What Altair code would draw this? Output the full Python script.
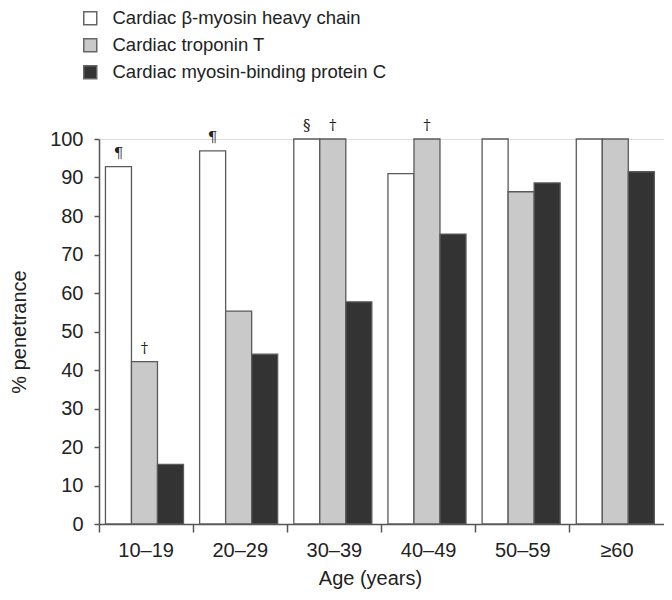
import altair as alt
import pandas as pd

ages = ["10–19", "20–29", "30–39", "40–49", "50–59", "≥60"]
series = ["Cardiac β-myosin heavy chain", "Cardiac troponin T", "Cardiac myosin-binding protein C"]
myh7 = [92.8, 96.9, 100, 91.0, 100, 100]
tnnt2 = [42.2, 55.3, 100, 100, 86.3, 100]
mybpc3 = [15.5, 44.1, 57.7, 75.3, 88.6, 91.5]

annot_ages = ["10–19", "20–29", "30–39", "30–39", "40–49", "10–19"]
annot_series = [0, 0, 0, 1, 1, 1]
annot_marks = ["¶", "¶", "§", "†", "†", "†"]

y_ticks = [0, 10, 20, 30, 40, 50, 60, 70, 80, 90, 100]

fills = ["#ffffff", "#c9c9c9", "#333333"]

vals = [myh7, tnnt2, mybpc3]
rows = []
for s, v in zip(series, vals):
    for a, y in zip(ages, v):
        rows.append({"age": a, "series": s, "value": y})
df = pd.DataFrame(rows)

arows = []
for a, si, m in zip(annot_ages, annot_series, annot_marks):
    arows.append({"age": a, "series": series[si], "value": vals[si][ages.index(a)], "mark": m})
adf = pd.DataFrame(arows)

x_enc = alt.X("age:N", sort=ages, title="Age (years)",
              scale=alt.Scale(paddingInner=0, paddingOuter=0),
              axis=alt.Axis(bandPosition=0, labelOffset=0, labelAngle=0, tickSize=8,
                            labelPadding=8, titlePadding=8, titleX=271,
                            labelFontSize=20, titleFontSize=20, titleFontWeight="normal",
                            domainColor="#555", tickColor="#555", domainWidth=1.5, tickWidth=1.5,
                            labelColor="#222", titleColor="#222", labelFont="Liberation Sans",
                            titleFont="Liberation Sans"))
xo_enc = alt.XOffset("series:N", sort=series,
                     scale=alt.Scale(paddingInner=0, paddingOuter=0.31, align=0.4))
y_enc = alt.Y("value:Q", title="% penetrance",
              scale=alt.Scale(domain=[0, 100], nice=False),
              axis=alt.Axis(values=y_ticks, tickCount=11, tickSize=5, labelPadding=11,
                            labelOverlap=False, labelBound=False,
                            titlePadding=20, grid=False, labelFontSize=20, titleFontSize=20,
                            titleFontWeight="normal", domainColor="#555", tickColor="#555",
                            domainWidth=1.5, tickWidth=1.5, labelColor="#222", titleColor="#222",
                            labelFont="Liberation Sans", titleFont="Liberation Sans"))

bars = alt.Chart(df).mark_bar(stroke="#5a5a5a", strokeWidth=1.3).encode(
    x=x_enc,
    xOffset=xo_enc,
    y=y_enc,
    color=alt.Color("series:N", sort=series,
                    scale=alt.Scale(domain=series, range=fills),
                    legend=alt.Legend(title=None, orient="none", legendX=-18, legendY=-130,
                                      symbolType="square", symbolSize=169,
                                      symbolStrokeColor="#666", symbolStrokeWidth=1.5,
                                      labelFontSize=18.5, labelFont="Liberation Sans",
                                      labelColor="#222", labelOffset=13, rowPadding=7,
                                      labelLimit=500)),
)

notes = alt.Chart(adf).mark_text(baseline="bottom", dy=-6, fontSize=15,
                                 font="DejaVu Serif", color="#222").encode(
    x=x_enc,
    xOffset=xo_enc,
    y=y_enc,
    text="mark:N",
)

chart = alt.layer(bars, notes).properties(
    width=565, height=385,
    autosize=alt.AutoSizeParams(type="none"),
    padding={"left": 91, "top": 131, "right": 0, "bottom": 68},
).configure_view(stroke=None).configure(background="#ffffff")

chart.save("out.html", embed_options={"renderer": "svg", "actions": False})
